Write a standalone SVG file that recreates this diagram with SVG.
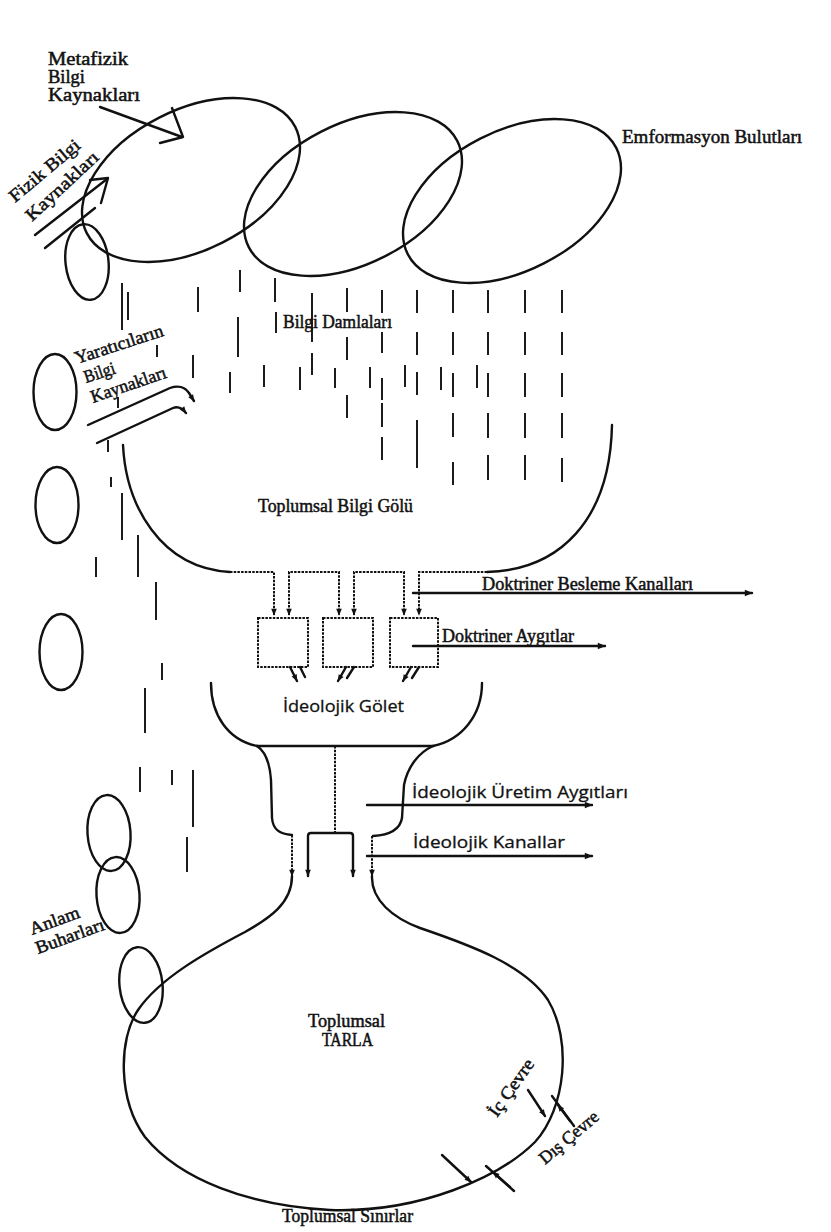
<svg xmlns="http://www.w3.org/2000/svg" width="831" height="1232" viewBox="0 0 831 1232">
<style>
.ln{fill:none;stroke:#111;stroke-width:2.4;stroke-linecap:round;stroke-linejoin:round}
.dt{fill:none;stroke:#111;stroke-width:2;stroke-dasharray:2.5 1.2}
.dr{fill:none;stroke:#111;stroke-width:1.9}
.s{font-family:"Liberation Serif",serif;font-size:18px;fill:#111;stroke:#111;stroke-width:0.5}
.o{font-family:"Open Sans","DejaVu Sans",sans-serif;font-size:17px;fill:#111;stroke:#111;stroke-width:0.3}
</style>
<defs>
<marker id="ah" viewBox="0 0 10 10" refX="9" refY="5" markerWidth="11" markerHeight="8" markerUnits="userSpaceOnUse" orient="auto-start-reverse"><path d="M0,1 L10,5 L0,9 z" fill="#111"/></marker>
<marker id="as" viewBox="0 0 10 10" refX="9" refY="5" markerWidth="8" markerHeight="7" markerUnits="userSpaceOnUse" orient="auto-start-reverse"><path d="M0,1 L10,5 L0,9 z" fill="#111"/></marker>
<ellipse id="cloud" cx="0" cy="0" rx="117" ry="70"/>
<ellipse id="vap" cx="0" cy="0" rx="21.5" ry="38"/>
</defs>
<rect width="831" height="1232" fill="#fff"/>

<g id="clouds" class="ln">
<use href="#cloud" transform="translate(191,180) rotate(-27)"/>
<use href="#cloud" transform="translate(353,194) rotate(-27)"/>
<use href="#cloud" transform="translate(512,201) rotate(-27)"/>
</g>
<text id="lbl-emf" class="s" x="622" y="143" font-size="19" textLength="180" lengthAdjust="spacingAndGlyphs">Emformasyon Bulutları</text>

<g id="vapours" class="ln">
<use href="#vap" transform="translate(87,262) rotate(-6)"/>
<use href="#vap" transform="translate(55,392)"/>
<use href="#vap" transform="translate(57,505)"/>
<use href="#vap" transform="translate(61,652)"/>
<use href="#vap" transform="translate(109,833) rotate(-4)"/>
<use href="#vap" transform="translate(118,895) rotate(-4)"/>
<use href="#vap" transform="translate(141,985) rotate(-6)"/>
</g>

<g id="metafizik">
<text class="s" x="48" y="65" font-size="20" textLength="80" lengthAdjust="spacingAndGlyphs">Metafizik</text>
<text class="s" x="48" y="83" font-size="20" textLength="37" lengthAdjust="spacingAndGlyphs">Bilgi</text>
<text class="s" x="48" y="101" font-size="20" textLength="92" lengthAdjust="spacingAndGlyphs">Kaynakları</text>
</g>
<g id="fizik">
<text class="s" font-size="20" transform="translate(15,203) rotate(-40)" textLength="87" lengthAdjust="spacingAndGlyphs">Fizik Bilgi</text>
<text class="s" font-size="20" transform="translate(32,222) rotate(-43)" textLength="93" lengthAdjust="spacingAndGlyphs">Kaynakları</text>
</g>
<g id="yaraticilar">
<text class="s" transform="translate(77,364) rotate(-18)" textLength="92" lengthAdjust="spacingAndGlyphs">Yaratıcıların</text>
<text class="s" transform="translate(86,383) rotate(-18)" textLength="32" lengthAdjust="spacingAndGlyphs">Bilgi</text>
<text class="s" transform="translate(93,403) rotate(-19)" textLength="79" lengthAdjust="spacingAndGlyphs">Kaynakları</text>
</g>
<text id="lbl-damla" class="s" x="283" y="328" font-size="17" textLength="109" lengthAdjust="spacingAndGlyphs">Bilgi Damlaları</text>

<g id="drops" class="dr">
<path d="M122,283V330M128,292V320M198,287V312M240,270V292M238,317V357M275,278V302M276,312V333M312,293V342M312,353V375M347,288V312M347,337V360M347,395V418M382,290V313M382,332V353M382,378V400M382,403V427M382,437V460M417,290V313M417,332V355M417,372V395M417,420V468M453,290V313M453,332V355M453,373V397M453,413V437M453,462V485M488,290V313M488,332V355M488,373V397M488,413V438M488,455V480M525,290V313M525,332V355M525,373V397M525,413V438M525,455V480M562,290V313M562,332V355M562,373V397M562,413V438M562,458V482"/>
<path d="M230,372V393M264,365V387M300,367V390M335,368V388M370,367V388M405,365V387M441,367V390M477,365V388M157,345V357M193,355V378"/>
<path d="M111,477V487M122,493V540M96,557V577M138,535V577M156,582V620M162,663V680M145,688V733M140,767V792M172,770V785M193,770V827M187,837V872M118,397V408M108,440V452"/>
</g>

<g id="connectors">
<path class="ln" d="M100,107 L182,137"/>
<path class="ln" d="M172,108 L183,137 L160,143"/>
<path class="ln" d="M35,235 L107,179"/>
<path class="ln" d="M90,180 L108,178 L101,203"/>
<path class="ln" d="M45,248 L95,208"/>
<path class="ln" d="M88,425 L170,388 C178,385 185,387 189,393 L194,401" marker-end="url(#as)"/>
<path class="ln" d="M97,443 L173,408 C178,406 182,408 186,413" marker-end="url(#as)"/>
<line class="ln" x1="413" y1="593" x2="752" y2="593" marker-end="url(#ah)"/>
<line class="ln" x1="413" y1="646" x2="605" y2="646" marker-end="url(#ah)"/>
<line class="ln" x1="367" y1="805" x2="592" y2="805" marker-end="url(#ah)"/>
<line class="ln" x1="367" y1="856" x2="592" y2="856" marker-end="url(#ah)"/>
<line class="ln" x1="528" y1="1090" x2="545" y2="1116" marker-end="url(#as)"/>
<path class="ln" d="M574,1126 L552,1096"/>
<line class="ln" x1="570" y1="1121" x2="558" y2="1105" marker-end="url(#as)"/>
<line class="ln" x1="442" y1="1155" x2="471" y2="1182" marker-end="url(#as)"/>
<path class="ln" d="M514,1191 L486,1166"/>
<line class="ln" x1="510" y1="1187" x2="493" y2="1172" marker-end="url(#as)"/>
</g>

<g id="lake">
<path class="ln" d="M123,445 C126,505 160,568 230,572"/>
<path class="ln" d="M487,572 C560,570 610,520 612,425"/>
<text class="s" x="258" y="512" textLength="155" lengthAdjust="spacingAndGlyphs">Toplumsal Bilgi Gölü</text>
</g>

<g id="feed-channels">
<path class="dt" d="M230,572 H274 V615" marker-end="url(#as)"/>
<path class="dt" d="M289,615 V572 H339 V615" marker-start="url(#as)" marker-end="url(#as)"/>
<path class="dt" d="M354,615 V572 H404 V615" marker-start="url(#as)" marker-end="url(#as)"/>
<path class="dt" d="M487,572 H419 V615" marker-end="url(#as)"/>
<text class="s" x="482" y="590" textLength="211" lengthAdjust="spacingAndGlyphs">Doktriner Besleme Kanalları</text>
</g>

<g id="doctrine-devices">
<rect class="dt" x="258" y="618" width="50" height="49"/>
<rect class="dt" x="323" y="618" width="50" height="49"/>
<rect class="dt" x="390" y="618" width="48" height="49"/>
<path class="ln" d="M290,667 L297,681" marker-end="url(#as)"/>
<path class="ln" d="M300,667 L305,677"/>
<path class="ln" d="M346,667 L338,681" marker-end="url(#as)"/>
<path class="ln" d="M354,667 L347,678"/>
<path class="ln" d="M411,667 L403,681" marker-end="url(#as)"/>
<path class="ln" d="M419,667 L412,678"/>
<text class="s" x="442" y="642" textLength="132" lengthAdjust="spacingAndGlyphs">Doktriner Aygıtlar</text>
</g>

<g id="golet">
<path class="ln" d="M211,683 C211,715 228,740 257,746"/>
<path class="ln" d="M482,683 C482,715 462,740 433,746"/>
<path class="ln" d="M257,746 H433"/>
<path class="dt" d="M335,746 V833"/>
<text class="o" x="283" y="712" textLength="121" lengthAdjust="spacingAndGlyphs">İdeolojik Gölet</text>
</g>

<g id="ideological-production">
<path class="ln" d="M257,746 C266,752 270,765 271,780 L272,818 C273,830 280,834 292,835"/>
<path class="dt" d="M292,835 V876" marker-end="url(#as)"/>
<path class="ln" d="M433,746 C420,752 408,765 404,785 L402,818 C400,830 390,835 373,836"/>
<path class="dt" d="M372,836 V876" marker-end="url(#as)"/>
<path class="ln" d="M308,876 V836 Q308,833 311,833 H350 Q353,833 353,836 V876" marker-start="url(#as)" marker-end="url(#as)"/>
<text class="o" x="412" y="798" textLength="216" lengthAdjust="spacingAndGlyphs">İdeolojik Üretim Aygıtları</text>
<text class="o" x="413" y="848" textLength="152" lengthAdjust="spacingAndGlyphs">İdeolojik Kanallar</text>
</g>

<g id="tarla">
<path class="ln" d="M292,876 C292,903 270,918 245,932 C205,953 160,978 138,1010 C118,1040 118,1100 145,1137 C180,1180 250,1206 330,1210 C420,1213 500,1177 535,1142 C566,1108 572,1040 548,1000 C525,965 470,945 420,928 C393,918 371,900 372,876"/>
<text class="s" x="308" y="1027" textLength="77" lengthAdjust="spacingAndGlyphs">Toplumsal</text>
<text class="s" x="322" y="1046" textLength="51" lengthAdjust="spacingAndGlyphs">TARLA</text>
<text class="s" x="282" y="1222" textLength="131" lengthAdjust="spacingAndGlyphs">Toplumsal Sınırlar</text>
<text class="s" transform="translate(497,1118) rotate(-55)" textLength="66" lengthAdjust="spacingAndGlyphs">İç Çevre</text>
<text class="s" transform="translate(545,1165) rotate(-40)" textLength="72" lengthAdjust="spacingAndGlyphs">Dış Çevre</text>
</g>

<g id="anlam">
<text class="s" font-size="19" transform="translate(32,935) rotate(-20)" textLength="52" lengthAdjust="spacingAndGlyphs">Anlam</text>
<text class="s" font-size="19" transform="translate(38,954) rotate(-20)" textLength="72" lengthAdjust="spacingAndGlyphs">Buharları</text>
</g>
</svg>
